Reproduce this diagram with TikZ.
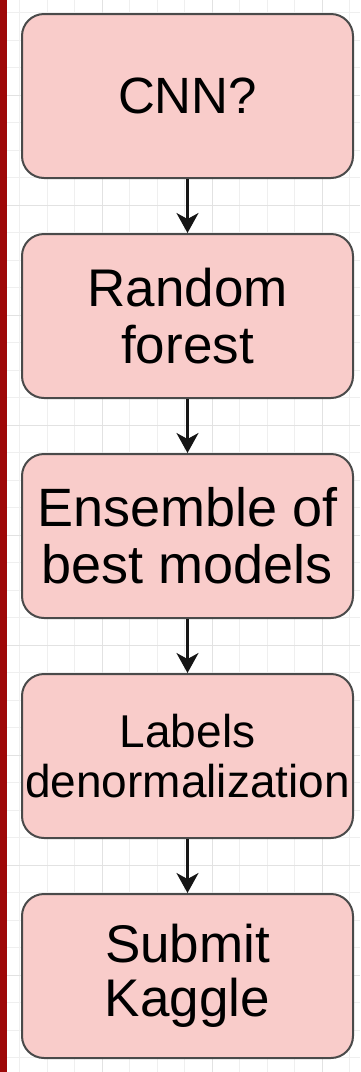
\documentclass[tikz,border=0pt]{standalone}
\usepackage{fontspec}
\setmainfont{Liberation Sans}
\usetikzlibrary{arrows.meta}
\definecolor{boxfill}{HTML}{F9CCCA}
\definecolor{boxline}{HTML}{4A4A4A}
\definecolor{arrowcol}{HTML}{151515}
\definecolor{barred}{HTML}{9E0808}
\definecolor{gridminor}{HTML}{EFEFEF}
\definecolor{gridmajor}{HTML}{E2E2E2}
\begin{document}
\begin{tikzpicture}[x=1pt,y=-1pt,
  stepbox/.style={draw=boxline, fill=boxfill, rounded corners=22pt, line width=2pt,
    minimum width=331pt, minimum height=164pt, inner sep=1pt, align=center, text=black},
  flow/.style={-{Stealth[length=20pt,width=22pt,inset=6pt]}, line width=2.2pt, draw=arrowcol, fill=arrowcol},
  gminor/.style={draw=gridminor, line width=0.8pt},
  gmajor/.style={draw=gridmajor, line width=0.9pt}]
\fill[white] (0,0) rectangle (360,1072);
\useasboundingbox (0,0) rectangle (360,1072);
% grid
\foreach \i in {0,...,12} {\draw[gminor] ({19.5+27.5*\i},0) -- ({19.5+27.5*\i},1072);}
\foreach \i in {0,...,38} {\draw[gminor] (0,{12.5+27.5*\i}) -- (360,{12.5+27.5*\i});}
\foreach \i in {0,...,2} {\draw[gmajor] ({102+110*\i},0) -- ({102+110*\i},1072);}
\foreach \i in {0,...,8} {\draw[gmajor] (0,{95+110*\i}) -- (360,{95+110*\i});}
% left bar
\fill[barred] (0,0) rectangle (7,1072);
% nodes
\node[stepbox, font=\fontsize{51}{57}\selectfont] (n1) at (187.5,96) {CNN?};
\node[stepbox, font=\fontsize{53}{57}\selectfont] (n2) at (187.5,316) {Random\\forest};
\node[stepbox, font=\fontsize{54}{57}\selectfont] (n3) at (187.5,536) {Ensemble of\\best models};
\node[stepbox, font=\fontsize{46}{50}\selectfont] (n4) at (187.5,756) {Labels\\denormalization};
\node[stepbox, font=\fontsize{53}{54}\selectfont] (n5) at (187.5,976) {Submit\\Kaggle};
% connectors
\draw[flow] (n1) -- (n2);
\draw[flow] (n2) -- (n3);
\draw[flow] (n3) -- (n4);
\draw[flow] (n4) -- (n5);
\end{tikzpicture}
\end{document}
